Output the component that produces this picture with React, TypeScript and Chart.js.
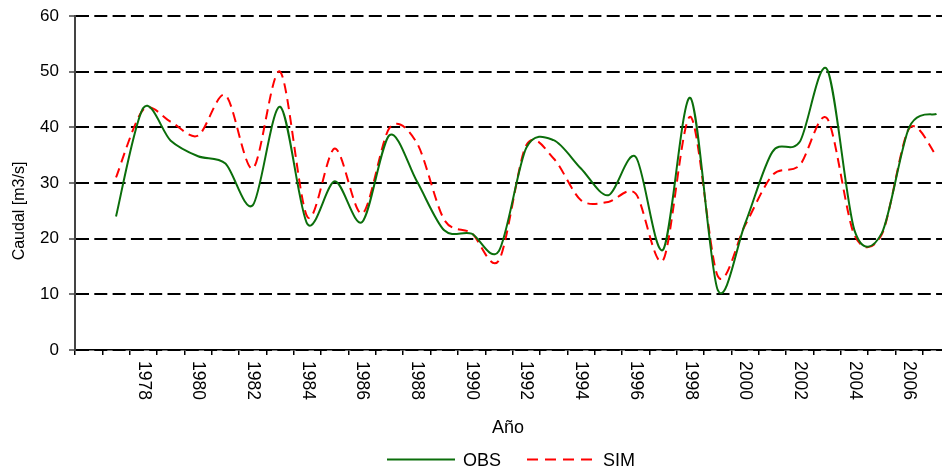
import React, { useEffect, useRef } from 'react';
import { Chart, registerables } from 'chart.js';

Chart.register(...registerables);

const FONT = '"Liberation Sans", Arial, sans-serif';

const years = [
  '1976', '1977', '1978', '1979', '1980', '1981', '1982', '1983', '1984', '1985',
  '1986', '1987', '1988', '1989', '1990', '1991', '1992', '1993', '1994', '1995',
  '1996', '1997', '1998', '1999', '2000', '2001', '2002', '2003', '2004', '2005',
  '2006', '2007',
];

const obsValues: (number | null)[] = [
  null, 24.0, 43.5, 37.6, 34.8, 33.5, 26.0, 43.7, 22.6, 30.3,
  23.0, 38.6, 30.3, 21.5, 20.9, 17.8, 36.3, 37.7, 32.6, 27.8,
  34.7, 18.0, 45.3, 10.8, 22.7, 35.6, 37.4, 50.4, 21.5, 21.0,
  40.0, 42.4,
];

const simValues: (number | null)[] = [
  null, 31.0, 43.2, 41.0, 38.5, 45.8, 32.6, 50.0, 23.9, 36.2,
  24.5, 39.9, 37.2, 23.4, 21.0, 16.1, 36.8, 34.4, 26.9, 26.6,
  28.1, 16.1, 41.9, 13.3, 22.4, 31.4, 33.2, 41.6, 20.6, 20.8,
  39.8, 34.8,
];

const xTickLabels = [
  '1978', '1980', '1982', '1984', '1986', '1988', '1990', '1992',
  '1994', '1996', '1998', '2000', '2002', '2004', '2006',
];

const Y_MIN = 0;
const Y_MAX = 60;
const Y_STEP = 10;

const Y_TITLE = 'Caudal [m3/s]';
const X_TITLE = 'Año';
const OBS_LABEL = 'OBS';
const SIM_LABEL = 'SIM';

const OBS_COLOR = '#0b6e0b';
const SIM_COLOR = '#ff0000';

const CANVAS_W = 1000;
const CANVAS_H = 470;
const SMOOTH = 0.15;

// Excel-like smoothing of the library-computed points
const smoothPlugin = {
  id: 'excelSmooth',
  beforeDatasetDraw(chart: any, args: any) {
    const meta = args.meta;
    const pts = meta.data.filter((p: any) => !p.skip);
    const n = pts.length;
    for (let i = 0; i < n; i++) {
      const p = pts[i];
      const prev = pts[Math.max(0, i - 1)];
      const next = pts[Math.min(n - 1, i + 1)];
      const dx = (next.x - prev.x) * SMOOTH;
      const dy = (next.y - prev.y) * SMOOTH;
      p.cp1x = p.x - dx;
      p.cp1y = p.y - dy;
      p.cp2x = p.x + dx;
      p.cp2y = p.y + dy;
    }
    meta.dataset._pointsUpdated = true;
    meta.dataset._path = undefined;
  },
};

const decorPlugin = {
  id: 'decor',
  afterDraw(chart: any) {
    const ctx = chart.ctx as CanvasRenderingContext2D;
    const xs = chart.scales.x;
    const area = chart.chartArea;
    ctx.save();
    ctx.fillStyle = '#000';

    // rotated x tick labels (reading top to bottom)
    ctx.font = `17.5px ${FONT}`;
    ctx.textAlign = 'left';
    ctx.textBaseline = 'middle';
    years.forEach((y, i) => {
      if (!xTickLabels.includes(y)) return;
      const x = xs.getPixelForValue(i);
      ctx.save();
      ctx.translate(x, area.bottom + 11);
      ctx.rotate(Math.PI / 2);
      ctx.fillText(y, 0, 0);
      ctx.restore();
    });

    // y title
    ctx.save();
    ctx.font = `16px ${FONT}`;
    ctx.textAlign = 'center';
    ctx.textBaseline = 'middle';
    ctx.translate(20, 211);
    ctx.rotate(-Math.PI / 2);
    ctx.fillText(Y_TITLE, 0, 0);
    ctx.restore();

    // x title
    ctx.font = `18px ${FONT}`;
    ctx.textAlign = 'center';
    ctx.textBaseline = 'alphabetic';
    ctx.fillText(X_TITLE, 508, 433);

    // legend
    ctx.lineWidth = 2;
    ctx.strokeStyle = OBS_COLOR;
    ctx.setLineDash([]);
    ctx.beginPath();
    ctx.moveTo(387, 459.5);
    ctx.lineTo(455, 459.5);
    ctx.stroke();
    ctx.textAlign = 'left';
    ctx.fillText(OBS_LABEL, 463, 466);

    ctx.strokeStyle = SIM_COLOR;
    ctx.setLineDash([11, 7]);
    ctx.beginPath();
    ctx.moveTo(527, 459.5);
    ctx.lineTo(592, 459.5);
    ctx.stroke();
    ctx.setLineDash([]);
    ctx.fillText(SIM_LABEL, 603, 466);

    ctx.restore();
  },
};

export default function App() {
  const canvasRef = useRef<HTMLCanvasElement | null>(null);

  useEffect(() => {
    const canvas = canvasRef.current;
    if (!canvas) return;
    Chart.defaults.font.family = FONT;

    const chart = new Chart(canvas, {
      type: 'line',
      data: {
        labels: years,
        datasets: [
          {
            label: OBS_LABEL,
            data: obsValues,
            borderColor: OBS_COLOR,
            backgroundColor: OBS_COLOR,
            borderWidth: 2,
            pointRadius: 0,
            tension: 0.4,
            fill: false,
          },
          {
            label: SIM_LABEL,
            data: simValues,
            borderColor: SIM_COLOR,
            backgroundColor: SIM_COLOR,
            borderWidth: 2,
            borderDash: [10, 6],
            pointRadius: 0,
            tension: 0.4,
            fill: false,
          },
        ],
      },
      options: {
        responsive: false,
        animation: false,
        devicePixelRatio: 1,
        layout: {
          padding: { left: 0, top: 16, right: CANVAS_W - 950.2, bottom: 0 },
        },
        plugins: {
          legend: { display: false },
          tooltip: { enabled: false },
          title: { display: false },
        },
        scales: {
          x: {
            type: 'category',
            offset: true,
            ticks: { display: false, autoSkip: false },
            grid: {
              display: true,
              offset: true,
              drawOnChartArea: false,
              drawTicks: true,
              tickLength: 5,
              color: '#000',
              lineWidth: 1.5,
            },
            border: { display: true, color: '#000', width: 1.5 },
            afterFit: (scale: any) => {
              scale.height = 120;
              scale.paddingLeft = 0;
              scale.paddingRight = 0;
            },
          },
          y: {
            min: Y_MIN,
            max: Y_MAX,
            ticks: {
              stepSize: Y_STEP,
              padding: 10,
              color: '#000',
              font: { size: 17, family: FONT },
            },
            grid: {
              color: '#000',
              lineWidth: 2,
              drawTicks: true,
              tickLength: 6,
              tickColor: '#444',
              tickWidth: 1.5,
            },
            border: { display: true, color: '#444', width: 2, dash: [13, 5.3] },
            afterFit: (scale: any) => {
              scale.width = 75;
              scale.paddingTop = 0;
              scale.paddingBottom = 0;
            },
          },
        },
      },
      plugins: [smoothPlugin, decorPlugin],
    } as any);

    return () => chart.destroy();
  }, []);

  return (
    <div
      style={{
        position: 'fixed',
        left: 0,
        top: 0,
        width: 942,
        height: 470,
        overflow: 'hidden',
        background: '#fff',
      }}
    >
      <canvas
        ref={canvasRef}
        width={CANVAS_W}
        height={CANVAS_H}
        style={{ display: 'block', width: CANVAS_W, height: CANVAS_H }}
      />
    </div>
  );
}
